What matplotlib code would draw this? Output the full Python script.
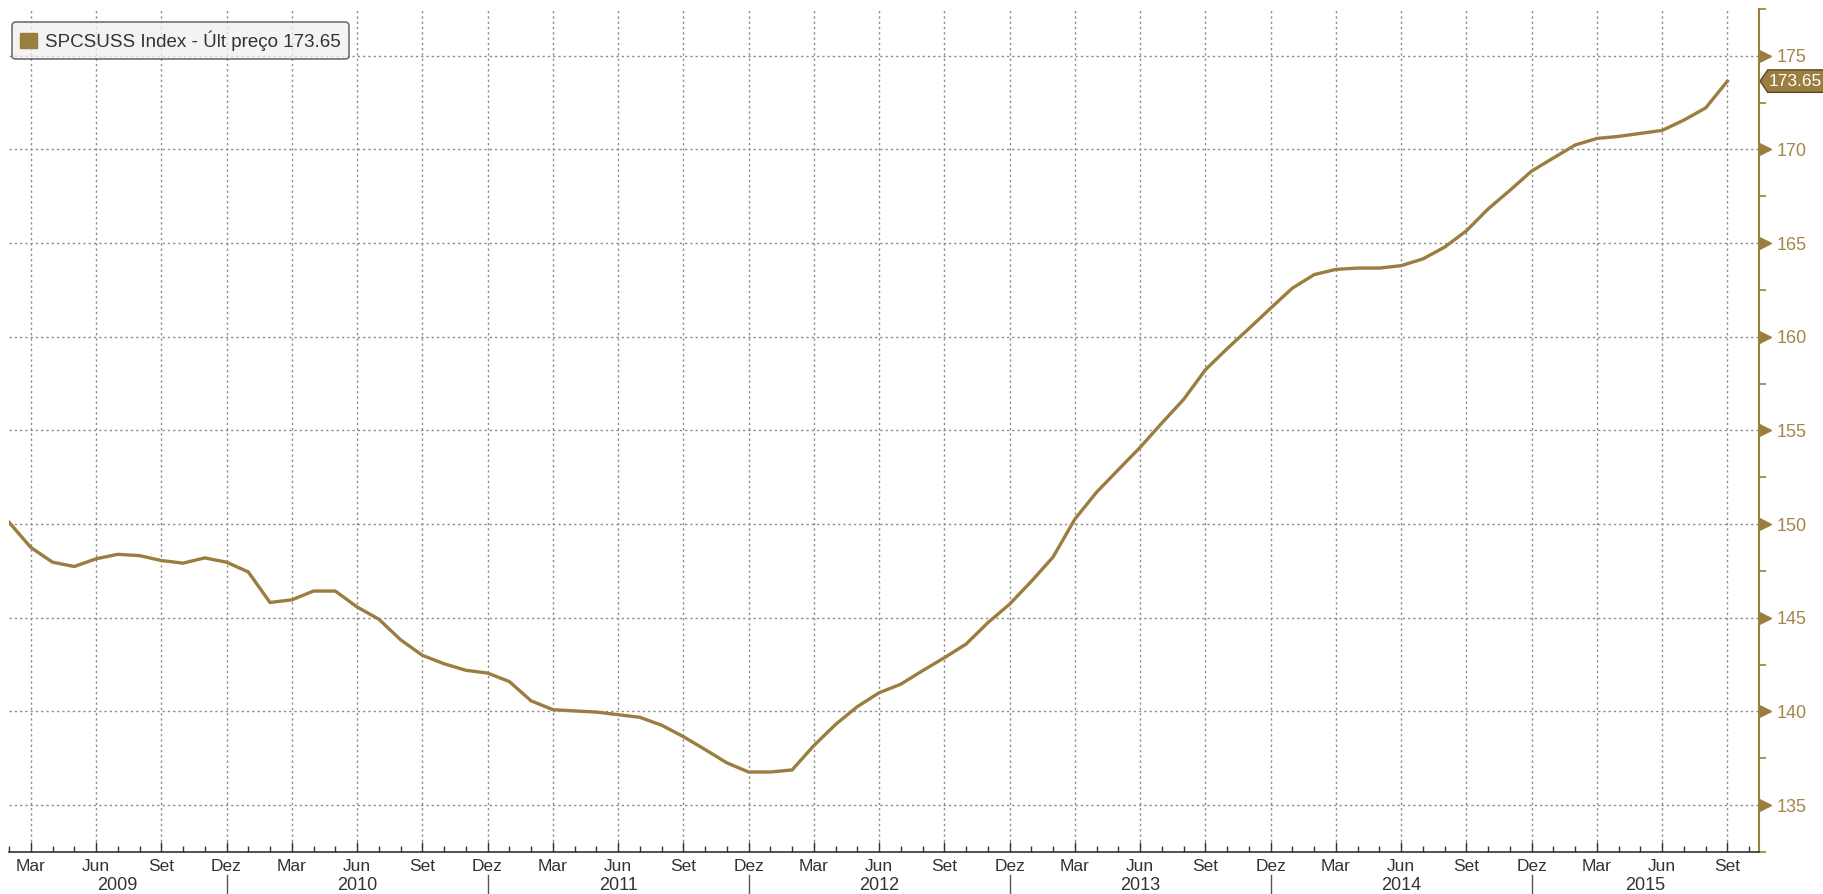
import numpy as np
import matplotlib
matplotlib.use("Agg")
from matplotlib import pyplot as plt
from matplotlib.patches import Patch, Polygon
from matplotlib import transforms

plt.rcParams['font.family'] = ['Liberation Sans', 'DejaVu Sans']

# Monthly index values, Feb 2009 .. Sep 2015
values_2009 = [150.1, 148.76, 147.97, 147.74, 148.15, 148.39, 148.32, 148.06, 147.92, 148.2, 147.97]
values_2010 = [147.45, 145.82, 145.96, 146.43, 146.43, 145.58, 144.93, 143.83, 143.0, 142.55, 142.2, 142.05]
values_2011 = [141.6, 140.57, 140.1, 140.03, 139.97, 139.83, 139.69, 139.27, 138.66, 137.97, 137.26, 136.77]
values_2012 = [136.77, 136.88, 138.18, 139.31, 140.26, 141.0, 141.46, 142.18, 142.87, 143.6, 144.74, 145.73]
values_2013 = [146.95, 148.25, 150.27, 151.71, 152.91, 154.1, 155.4, 156.66, 158.24, 159.37, 160.44, 161.53]
values_2014 = [162.6, 163.32, 163.6, 163.67, 163.67, 163.8, 164.16, 164.79, 165.66, 166.83, 167.82, 168.85]
values_2015 = [169.55, 170.24, 170.59, 170.7, 170.86, 171.02, 171.57, 172.22, 173.65]

years = [2009, 2010, 2011, 2012, 2013, 2014, 2015]
quarter_labels = ['Mar', 'Jun', 'Set', 'Dez']
y_ticks = [135, 140, 145, 150, 155, 160, 165, 170, 175]
last_price = 173.65
legend_label = 'SPCSUSS Index - Últ preço 173.65'

values = values_2009 + values_2010 + values_2011 + values_2012 + values_2013 + values_2014 + values_2015
# month index: 0 = Jan 2009
months = np.arange(1, 1 + len(values))

gold = '#9b7d3f'
gold_txt = '#a3864a'
dark = '#333333'

W, H = 1823, 894
fig = plt.figure(figsize=(W / 100, H / 100), dpi=100)
left, right, top, bottom = 9, 1759, 9, 852
ax = fig.add_axes([left / W, (H - bottom) / H, (right - left) / W, (bottom - top) / H])

ax.plot(months, values, color=gold, lw=2.4, solid_joinstyle='miter', zorder=3)

ax.set_xlim(1.0, 81.45)
ax.set_ylim(133.09, 177.27)

# x axis: quarters labelled, months as minor ticks
q_idx = np.arange(2, 81, 3)
ax.set_xticks(q_idx)
ax.set_xticklabels([quarter_labels[(i - 2) // 3 % 4] for i in q_idx])
ax.set_xticks(np.arange(1, 82), minor=True)
ax.tick_params(axis='x', which='major', direction='in', length=7, width=1, color=dark,
               labelsize=12.5, labelcolor=dark, pad=5)
ax.tick_params(axis='x', which='minor', direction='in', length=4, width=1, color=dark)

# y axis on the right
ax.yaxis.tick_right()
ax.set_yticks(y_ticks)
ax.set_yticklabels([str(v) for v in y_ticks])
ax.set_yticks(np.arange(132.5, 178, 2.5), minor=True)
ax.tick_params(axis='y', which='major', length=0, pad=13, labelsize=13, labelcolor=gold_txt)
ax.tick_params(axis='y', which='minor', direction='out', length=5, width=1.2, color=gold)
ytr = ax.get_yaxis_transform()
ax.plot(np.full(len(y_ticks), 1.0035), y_ticks, linestyle='none', marker='>', markersize=8,
        color=gold, transform=ytr, clip_on=False)

for s in ['left', 'top']:
    ax.spines[s].set_visible(False)
ax.spines['right'].set_color(gold)
ax.spines['right'].set_linewidth(1.5)
ax.spines['bottom'].set_color(dark)
ax.spines['bottom'].set_linewidth(1.2)

ax.grid(True, which='major', color='#8a8a8a', linestyle=(0, (1.6, 2.2)), linewidth=1)

# year labels and separators
xtr = ax.get_xaxis_transform()
x0, x1 = ax.get_xlim()
for i, yr in enumerate(years):
    start = max(x0, 11 + 12 * (i - 1))
    end = min(x1, 11 + 12 * i)
    ax.text((start + end) / 2, -0.04, str(yr), transform=xtr, ha='center', va='center',
            fontsize=13, color=dark)
    if 11 + 12 * i < x1:
        ax.plot([11 + 12 * i] * 2, [-0.027, -0.06], transform=xtr, color='#555555', lw=1,
                clip_on=False)

# legend box
leg = ax.legend(handles=[Patch(facecolor=gold, edgecolor=gold)], labels=[legend_label],
                loc='upper left', bbox_to_anchor=(3 / 1750, 1 - 13 / 843), borderaxespad=0,
                handlelength=0.9, handleheight=0.9, handletextpad=0.4, fontsize=13.5,
                fancybox=True, framealpha=0.75, borderpad=0.45)
leg.get_frame().set_facecolor('#f0f0f0')
leg.get_frame().set_edgecolor('#444444')
leg.get_frame().set_linewidth(1.2)
for t in leg.get_texts():
    t.set_color(dark)

# last price tag
htr = transforms.blended_transform_factory(ax.transAxes, ax.transData)
hh = 0.6
tag = Polygon([(1.0006, last_price), (1.005, last_price + hh), (1.04, last_price + hh),
               (1.04, last_price - hh), (1.005, last_price - hh)], closed=True,
              facecolor=gold, edgecolor='#5a4520', lw=1, transform=htr, clip_on=False)
ax.add_patch(tag)
ax.text(1.0205, last_price, f'{last_price:.2f}', transform=htr, ha='center', va='center',
        fontsize=12.5, color='white')

fig.savefig('out.png', dpi=100)
